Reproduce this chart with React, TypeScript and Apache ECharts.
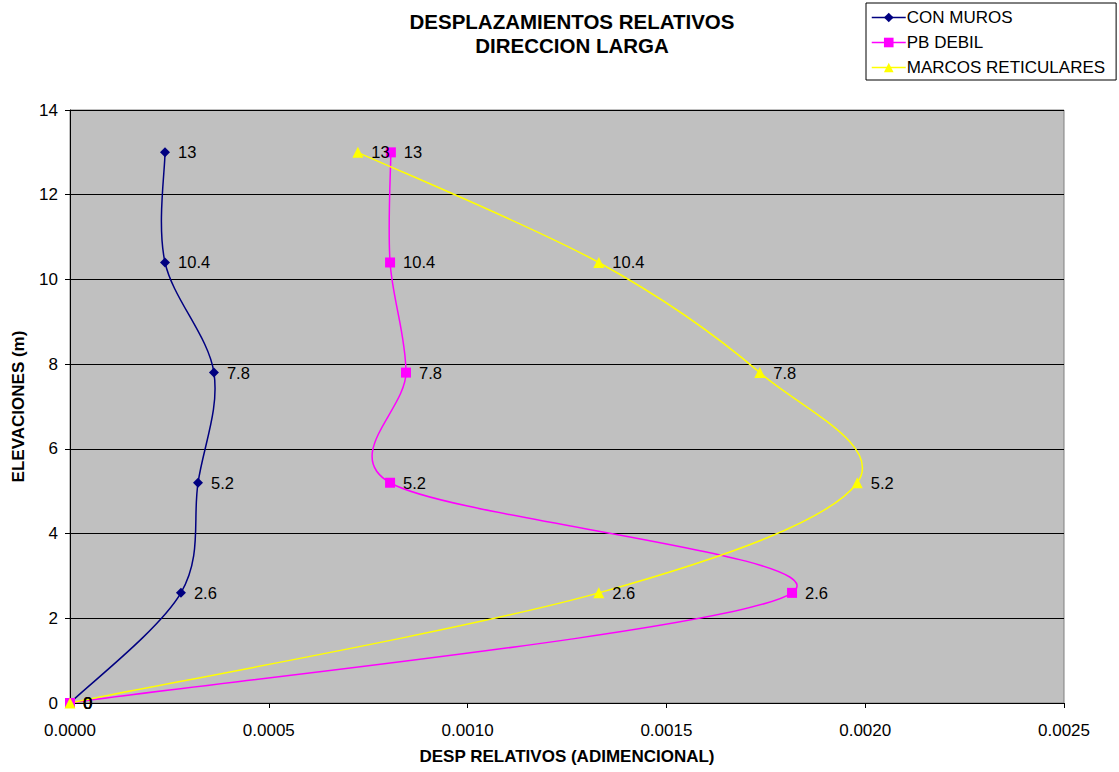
import React, { useEffect, useRef } from "react";
import * as echarts from "echarts";

const elevations = [0, 2.6, 5.2, 7.8, 10.4, 13];
const conMuros = [0, 0.000279, 0.000322, 0.000362, 0.000239, 0.000239];
const pbDebil = [0, 0.001816, 0.000805, 0.000845, 0.000805, 0.000807];
const marcos = [0, 0.00133, 0.00198, 0.001735, 0.00133, 0.000724];
const xTicks = [0, 0.0005, 0.001, 0.0015, 0.002, 0.0025];
const names = ["CON MUROS", "PB DEBIL", "MARCOS RETICULARES"];
const colors = ["#000080", "#ff00ff", "#ffff00"];

const FONT = "Liberation Sans, Arial, sans-serif";

function handle(vx: number, vy: number, segLen: number) {
  const len = Math.hypot(vx, vy);
  const maxLen = segLen * 0.5;
  if (len > maxLen && len > 0) {
    const k = maxLen / len;
    return [vx * k, vy * k];
  }
  return [vx, vy];
}

function curve(key: string, xs: number[], color: string) {
  return {
    name: key,
    type: "custom",
    silent: true,
    z: 2,
    clip: true,
    data: xs.map((x, i) => [x, elevations[i]]),
    encode: { x: 0, y: 1 },
    renderItem: (params: any, api: any) => {
      if (params.dataIndex !== 0) return null;
      const pts = xs.map((x, i) => api.coord([x, elevations[i]]));
      let d = `M${pts[0][0]},${pts[0][1]}`;
      for (let i = 0; i < pts.length - 1; i++) {
        const p0 = pts[i - 1] || pts[i];
        const p1 = pts[i];
        const p2 = pts[i + 1];
        const p3 = pts[i + 2] || pts[i + 1];
        const seg = Math.hypot(p2[0] - p1[0], p2[1] - p1[1]);
        const h1 = handle((p2[0] - p0[0]) / 6, (p2[1] - p0[1]) / 6, seg);
        const h2 = handle((p3[0] - p1[0]) / 6, (p3[1] - p1[1]) / 6, seg);
        const c1x = p1[0] + h1[0];
        const c1y = p1[1] + h1[1];
        const c2x = p2[0] - h2[0];
        const c2y = p2[1] - h2[1];
        d += ` C${c1x},${c1y} ${c2x},${c2y} ${p2[0]},${p2[1]}`;
      }
      return {
        type: "path",
        shape: { pathData: d },
        style: { fill: "none", stroke: color, lineWidth: 1.5 },
      };
    },
  };
}

function mk(name: string, xs: number[], color: string, symbol: string, size: number) {
  return {
    name,
    type: "line",
    data: xs.map((x, i) => [x, elevations[i]]),
    symbol,
    symbolSize: size,
    lineStyle: { color, width: 1.5, opacity: 0 },
    itemStyle: { color },
    label: {
      show: true,
      position: "right",
      distance: 8,
      color: "#000",
      fontSize: 16.5,
      fontFamily: FONT,
      formatter: (p: any) => String(p.value[1]),
    },
    z: 3,
  };
}

export default function App() {
  const ref = useRef<HTMLDivElement>(null);
  useEffect(() => {
    const chart = echarts.init(ref.current!, undefined, { renderer: "svg" });
    chart.setOption({
      animation: false,
      backgroundColor: "#fff",
      title: {
        text: "DESPLAZAMIENTOS RELATIVOS\nDIRECCION LARGA",
        left: 572,
        top: 9,
        padding: 0,
        textAlign: "center",
        textStyle: { fontFamily: FONT, fontSize: 20.5, fontWeight: "bold", color: "#000", lineHeight: 24 },
      },
      legend: {
        orient: "vertical",
        left: 866,
        top: 3,
        borderColor: "#000",
        borderWidth: 1,
        padding: [6, 11, 4, 5],
        itemGap: 8,
        itemWidth: 34,
        itemHeight: 12,
        textStyle: { fontFamily: FONT, fontSize: 17, color: "#000", padding: [0, 0, 0, -4] },
        data: names.map((n, i) => ({
          name: n,
          lineStyle: { color: colors[i], width: 1.5, opacity: 1 },
        })),
      },
      grid: {
        left: 70,
        right: 55,
        top: 110,
        bottom: 69,
        show: true,
        backgroundColor: "#c0c0c0",
        borderColor: "#808080",
        borderWidth: 1,
      },
      xAxis: {
        type: "value",
        min: xTicks[0],
        max: xTicks[xTicks.length - 1],
        interval: 0.0005,
        name: "DESP RELATIVOS (ADIMENCIONAL)",
        nameLocation: "middle",
        nameGap: 45,
        nameTextStyle: { fontFamily: FONT, fontSize: 17, fontWeight: "bold", color: "#000" },
        axisLine: { show: true, lineStyle: { color: "#000", width: 1 } },
        axisTick: { show: true, length: 5, lineStyle: { color: "#000" } },
        splitLine: { show: false },
        axisLabel: {
          fontFamily: FONT,
          fontSize: 17,
          color: "#000",
          margin: 19,
          formatter: (v: number) => v.toFixed(4),
        },
      },
      yAxis: {
        type: "value",
        min: 0,
        max: 14,
        interval: 2,
        name: "ELEVACIONES (m)",
        nameLocation: "middle",
        nameGap: 43,
        nameRotate: 90,
        nameTextStyle: { fontFamily: FONT, fontSize: 17, fontWeight: "bold", color: "#000" },
        axisLine: { show: true, lineStyle: { color: "#000", width: 1 } },
        axisTick: { show: true, length: 5, lineStyle: { color: "#000" } },
        splitLine: { show: true, lineStyle: { color: "#000", width: 1 } },
        axisLabel: { fontFamily: FONT, fontSize: 17, color: "#000", margin: 12 },
      },
      series: [
        curve("_c0", conMuros, colors[0]),
        curve("_c1", pbDebil, colors[1]),
        curve("_c2", marcos, colors[2]),
        mk(names[0], conMuros, colors[0], "diamond", 10),
        mk(names[1], pbDebil, colors[1], "rect", 10),
        mk(names[2], marcos, colors[2], "triangle", 11),
      ],
    });
    return () => chart.dispose();
  }, []);
  return <div ref={ref} style={{ width: 1119, height: 772, position: "absolute", left: 0, top: 0 }} />;
}
